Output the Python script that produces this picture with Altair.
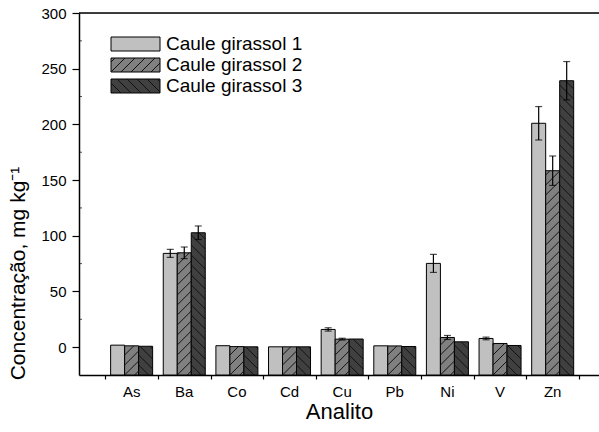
import math
import altair as alt
import pandas as pd

# ---------------- data ----------------
analitos = ["As", "Ba", "Co", "Cd", "Cu", "Pb", "Ni", "V", "Zn"]
series = ["Caule girassol 1", "Caule girassol 2", "Caule girassol 3"]
girassol1 = [1.8, 84.2, 1.3, 0.3, 15.9, 1.2, 75.2, 7.8, 201.0]
girassol2 = [1.2, 84.7, 0.5, 0.3, 7.2, 1.1, 8.7, 3.3, 158.4]
girassol3 = [0.8, 102.7, 0.3, 0.3, 7.3, 0.6, 4.8, 1.5, 239.2]
erro1 = [0.0, 3.6, 0.0, 0.0, 1.5, 0.0, 8.1, 1.2, 15.0]
erro2 = [0.0, 5.2, 0.0, 0.0, 0.8, 0.0, 1.8, 0.0, 13.2]
erro3 = [0.0, 6.1, 0.0, 0.0, 0.0, 0.0, 0.0, 0.0, 17.2]
y_ticks = [0, 50, 100, 150, 200, 250, 300]
y_minor = [25, 75, 125, 175, 225, 275]

# ---------------- layout / style ----------------
FONT = "Liberation Sans"
W, H = 520, 362
X_MIN, X_MAX = 0.0, 9.88
Y_MIN, Y_MAX = -25.0, 300.0
XPU = W / (X_MAX - X_MIN)
YPU = H / (Y_MAX - Y_MIN)
BAR_PX = 14.0
BW = BAR_PX / XPU
HATCH_GAP = 10.0
colors = ["#c0c0c0", "#808080", "#404040"]
hatch_dir = [0, 1, -1]  # none, "/", "\"

# legend layout (pixels relative to the plot area)
LEG_X, LEG_Y, LEG_ROW = 32.0, 24.0, 21.0
SW_W, SW_H = 49.0, 14.0
LEG_TEXT_DX = 55.0

values = [girassol1, girassol2, girassol3]
errors = [erro1, erro2, erro3]


def px_to_x(px):
    return X_MIN + px / XPU


def px_to_y(py):
    return Y_MAX - py / YPU


rows = []
for i, a in enumerate(analitos):
    pos = i + 1
    for j, s in enumerate(series):
        x0 = pos + (j - 1.5) * BW
        v = values[j][i]
        e = errors[j][i]
        rows.append(dict(analito=a, serie=s, x0=x0, x1=x0 + BW, xc=x0 + BW / 2,
                         valor=v, base=Y_MIN, erro=e, lo=v - e, hi=v + e))
df = pd.DataFrame(rows)

cat_df = pd.DataFrame({"analito": analitos,
                       "pos": [i + 1 for i in range(len(analitos))],
                       "yb": [Y_MIN] * len(analitos)})
minor_df = pd.DataFrame({"v": y_minor, "x": [X_MIN] * len(y_minor)})


def hatch_segments(w, h, direction, gap):
    segs = []
    if direction == 1:
        k0 = math.ceil(-w / gap)
        k1 = math.floor(h / gap)
        for k in range(k0, k1 + 1):
            c = k * gap
            u0, u1 = max(0.0, -c), min(w, h - c)
            if u1 - u0 > 0.5:
                segs.append((u0, u0 + c, u1, u1 + c))
    elif direction == -1:
        k1 = math.floor((w + h) / gap)
        for k in range(0, k1 + 1):
            c = k * gap
            u0, u1 = max(0.0, c - h), min(w, c)
            if u1 - u0 > 0.5:
                segs.append((u0, c - u0, u1, c - u1))
    return segs


# legend swatches in data units
leg_rows = []
for j, s in enumerate(series):
    top = LEG_Y + j * LEG_ROW
    leg_rows.append(dict(serie=s, x0=px_to_x(LEG_X), x1=px_to_x(LEG_X + SW_W),
                         valor=px_to_y(top), base=px_to_y(top + SW_H),
                         tx=px_to_x(LEG_X + LEG_TEXT_DX), ty=px_to_y(top + SW_H / 2)))
ldf = pd.DataFrame(leg_rows)

# hatch segments (bars + legend swatches)
hrows = []
for r in rows + leg_rows:
    j = series.index(r["serie"])
    d = hatch_dir[j]
    if d == 0:
        continue
    w = (r["x1"] - r["x0"]) * XPU
    h = (r["valor"] - r["base"]) * YPU
    for (u0, t0, u1, t1) in hatch_segments(w, h, d, HATCH_GAP):
        hrows.append(dict(serie=r["serie"],
                          hx0=r["x0"] + u0 / XPU, hy0=r["base"] + t0 / YPU,
                          hx1=r["x0"] + u1 / XPU, hy1=r["base"] + t1 / YPU))
hdf = pd.DataFrame(hrows)

# ---------------- scales & axes ----------------
x_scale = alt.Scale(domain=[X_MIN, X_MAX], nice=False, zero=False)
y_scale = alt.Scale(domain=[Y_MIN, Y_MAX], nice=False, zero=False)
fill_scale = alt.Scale(domain=series, range=colors)

x_tick_vals = [k + 0.5 for k in range(len(analitos) + 1)]

x_axis = alt.Axis(
    values=x_tick_vals, labels=False,
    tickSize=4, tickWidth=1.2, tickColor="black",
    grid=False, domainColor="black", domainWidth=1.5,
    title="Analito", titleFont=FONT, titleFontSize=22, titleFontWeight="normal",
    titleColor="black", titleY=36, titleBaseline="middle",
)
y_axis = alt.Axis(
    values=y_ticks, tickSize=7, tickWidth=1.2, tickColor="black",
    labelPadding=6, labelFontSize=15, labelFont=FONT, labelColor="black",
    grid=False, domainColor="black", domainWidth=1.5,
    title="Concentração, mg kg⁻¹", titleFont=FONT, titleFontSize=21,
    titleFontWeight="normal", titleColor="black",
    titleX=-61, titleY=260, titleAngle=270, titleAlign="center", titleBaseline="middle",
)

base = alt.Chart(df)

bars = base.mark_rect(stroke="black", strokeWidth=1).encode(
    x=alt.X("x0:Q", scale=x_scale, axis=x_axis),
    x2="x1:Q",
    y=alt.Y("valor:Q", scale=y_scale, axis=y_axis),
    y2="base:Q",
    fill=alt.Fill("serie:N", scale=fill_scale, legend=None),
)

leg_boxes = alt.Chart(ldf).mark_rect(stroke="black", strokeWidth=1).encode(
    x=alt.X("x0:Q", scale=x_scale),
    x2="x1:Q",
    y=alt.Y("valor:Q", scale=y_scale),
    y2="base:Q",
    fill=alt.Fill("serie:N", scale=fill_scale, legend=None),
)

hatch = alt.Chart(hdf).mark_rule(color="#111111", strokeWidth=1).encode(
    x=alt.X("hx0:Q", scale=x_scale),
    x2="hx1:Q",
    y=alt.Y("hy0:Q", scale=y_scale),
    y2="hy1:Q",
)

leg_text = alt.Chart(ldf).mark_text(align="left", baseline="middle", font=FONT,
                                    fontSize=19, color="black").encode(
    x=alt.X("tx:Q", scale=x_scale),
    y=alt.Y("ty:Q", scale=y_scale),
    text="serie:N",
)

cat_labels = alt.Chart(cat_df).mark_text(align="center", baseline="top", dy=10, font=FONT,
                                         fontSize=15, color="black").encode(
    x=alt.X("pos:Q", scale=x_scale),
    y=alt.Y("yb:Q", scale=y_scale),
    text="analito:N",
)

minor_ticks = alt.Chart(minor_df).mark_tick(orient="horizontal", size=3, thickness=1,
                                            xOffset=1.5, color="black").encode(
    x=alt.X("x:Q", scale=x_scale),
    y=alt.Y("v:Q", scale=y_scale),
)

err_base = base.transform_filter("datum.erro > 0")
err_rule = err_base.mark_rule(color="black", strokeWidth=1.2).encode(
    x=alt.X("xc:Q", scale=x_scale),
    y=alt.Y("lo:Q", scale=y_scale),
    y2="hi:Q",
)
cap_lo = err_base.mark_tick(orient="horizontal", size=7, thickness=1.2, color="black").encode(
    x=alt.X("xc:Q", scale=x_scale), y=alt.Y("lo:Q", scale=y_scale))
cap_hi = err_base.mark_tick(orient="horizontal", size=7, thickness=1.2, color="black").encode(
    x=alt.X("xc:Q", scale=x_scale), y=alt.Y("hi:Q", scale=y_scale))

top_line = alt.Chart(pd.DataFrame({"t": [Y_MAX]})).mark_rule(color="black", strokeWidth=1.5).encode(
    y=alt.Y("t:Q", scale=y_scale))

chart = alt.layer(bars, leg_boxes, hatch, leg_text, cat_labels, minor_ticks,
                  err_rule, cap_lo, cap_hi, top_line).properties(
    width=W, height=H,
    padding={"left": 79, "top": 13, "right": 0, "bottom": 57},
    autosize=alt.AutoSizeParams(type="none"),
).configure_view(stroke=None).configure(background="white")

chart.save("out.html", embed_options={"renderer": "svg", "actions": False})
